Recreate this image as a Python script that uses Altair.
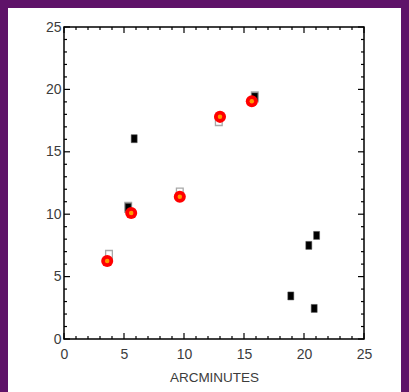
import altair as alt
import pandas as pd

# --- data ---
circle_x = [3.6, 5.6, 9.65, 13.0, 15.65]
circle_y = [6.25, 10.1, 11.4, 17.8, 19.05]

grey_sq_x = [3.75, 5.35, 9.65, 12.9, 15.9]
grey_sq_y = [6.7, 10.55, 11.7, 17.5, 19.4]

black_sq_x = [5.85, 5.35, 15.9, 18.9, 20.4, 21.05, 20.85]
black_sq_y = [16.05, 10.55, 19.4, 3.45, 7.5, 8.3, 2.45]

major_ticks = [0, 5, 10, 15, 20, 25]
minor_ticks = [1, 2, 3, 4, 6, 7, 8, 9, 11, 12, 13, 14, 16, 17, 18, 19, 21, 22, 23, 24]

FONT = "Liberation Sans, Arial, sans-serif"
W, H = 300, 312

circles = pd.DataFrame({"x": circle_x, "y": circle_y})
grey_sq = pd.DataFrame({"x": grey_sq_x, "y": grey_sq_y})
black_sq = pd.DataFrame({"x": black_sq_x, "y": black_sq_y})
major = pd.DataFrame({"v": major_ticks})
minor = pd.DataFrame({"v": minor_ticks})

xs = alt.Scale(domain=[0, 25], nice=False, zero=False)
ys = alt.Scale(domain=[0, 25], nice=False, zero=False)

xaxis = alt.Axis(values=major_ticks, ticks=False, domain=False, grid=False,
                 labelFont=FONT, labelFontSize=14, labelColor="#3c3c3c",
                 labelPadding=8, labelFlush=False, title="ARCMINUTES", titleFont=FONT,
                 titleFontSize=13.5, titleFontWeight="normal", titleColor="#3c3c3c",
                 titlePadding=9, format="d", zindex=2)
yaxis = alt.Axis(values=major_ticks, ticks=False, domain=False, grid=False,
                 labelFont=FONT, labelFontSize=14, labelColor="#3c3c3c",
                 labelPadding=3, labelFlush=False, title=None, format="d", zindex=2)

# white page area over purple background
page = alt.Chart(pd.DataFrame({"a": [0]})).mark_rect(color="white", clip=False).encode(
    x=alt.value(-56), x2=alt.value(337), y=alt.value(-19), y2=alt.value(365)
)
frame = alt.Chart(pd.DataFrame({"a": [0]})).mark_rect(
    fill=None, fillOpacity=0, stroke="black", strokeWidth=1.5, clip=False
).encode(x=alt.value(0), x2=alt.value(W), y=alt.value(0), y2=alt.value(H))

base_pts = alt.Chart(circles).mark_point(opacity=0).encode(
    x=alt.X("x:Q", scale=xs, axis=xaxis),
    y=alt.Y("y:Q", scale=ys, axis=yaxis),
)

def tick_layers(df, L):
    bot = alt.Chart(df).mark_rule(color="black", strokeWidth=1.2).encode(
        x=alt.X("v:Q", scale=xs), y=alt.value(H), y2=alt.value(H - L))
    top = alt.Chart(df).mark_rule(color="black", strokeWidth=1.2).encode(
        x=alt.X("v:Q", scale=xs), y=alt.value(0), y2=alt.value(L))
    left = alt.Chart(df).mark_rule(color="black", strokeWidth=1.2).encode(
        y=alt.Y("v:Q", scale=ys), x=alt.value(0), x2=alt.value(L))
    right = alt.Chart(df).mark_rule(color="black", strokeWidth=1.2).encode(
        y=alt.Y("v:Q", scale=ys), x=alt.value(W), x2=alt.value(W - L))
    return [bot, top, left, right]

grey_layer = alt.Chart(grey_sq).mark_point(
    shape="M-0.55,-0.8L0.55,-0.8L0.55,0.8L-0.55,0.8Z", size=150,
    filled=True, fill="white", stroke="#a8a8a8", strokeWidth=1.3, opacity=1
).encode(x=alt.X("x:Q", scale=xs), y=alt.Y("y:Q", scale=ys))

black_layer = alt.Chart(black_sq).mark_point(
    shape="M-0.6,-0.8L0.6,-0.8L0.6,0.8L-0.6,0.8Z", size=100,
    filled=True, fill="black", stroke="#555555", strokeWidth=0.5, opacity=1
).encode(x=alt.X("x:Q", scale=xs), y=alt.Y("y:Q", scale=ys))

red_layer = alt.Chart(circles).mark_circle(size=145, color="#ff0000", opacity=1).encode(
    x=alt.X("x:Q", scale=xs), y=alt.Y("y:Q", scale=ys))
orange_layer = alt.Chart(circles).mark_circle(size=20, color="#ff9900", opacity=1).encode(
    x=alt.X("x:Q", scale=xs), y=alt.Y("y:Q", scale=ys))

chart = alt.layer(
    page, frame, base_pts, *tick_layers(major, 6), *tick_layers(minor, 3),
    grey_layer, black_layer, red_layer, orange_layer
).properties(
    width=W, height=H,
    autosize=alt.AutoSizeParams(type="none"),
    padding={"left": 64, "top": 27, "right": 45, "bottom": 53},
    background="#5f1369",
).configure_view(stroke=None)

chart.save("out.html", embed_options={"renderer": "svg", "actions": False})
